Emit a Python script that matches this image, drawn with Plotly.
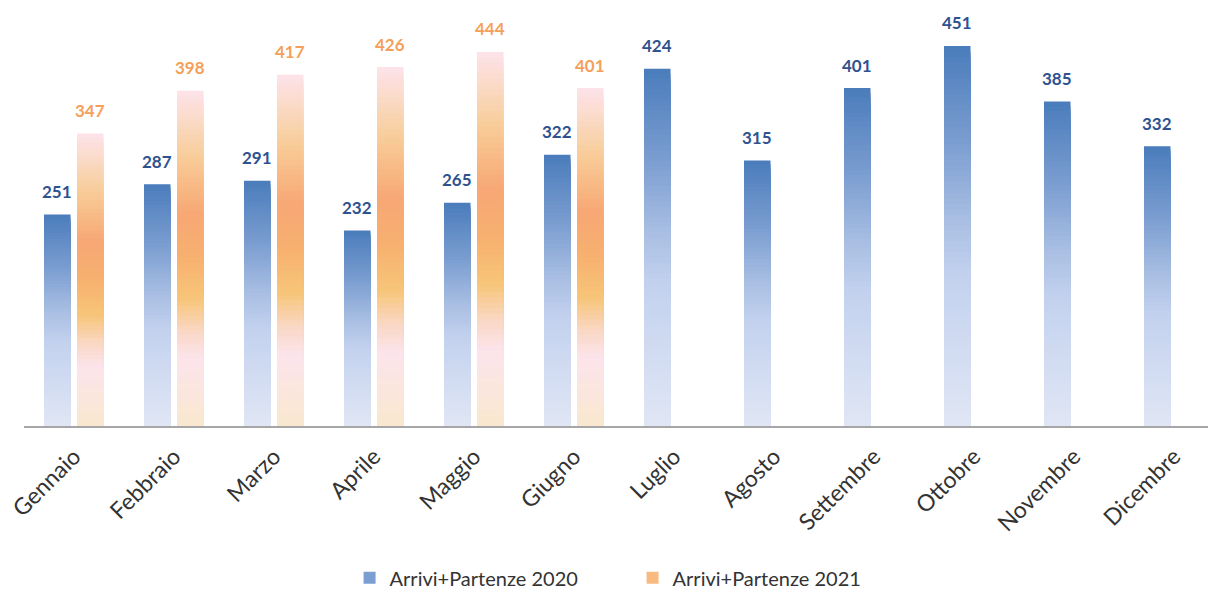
import plotly.graph_objects as go
from plotly.colors import sample_colorscale

# ---------------- data ----------------
months = ["Gennaio", "Febbraio", "Marzo", "Aprile", "Maggio", "Giugno",
          "Luglio", "Agosto", "Settembre", "Ottobre", "Novembre", "Dicembre"]
values_2020 = [251, 287, 291, 232, 265, 322, 424, 315, 401, 451, 385, 332]
months_2021 = months[:6]
values_2021 = [347, 398, 417, 426, 444, 401]
series_names = ["Arrivi+Partenze 2020", "Arrivi+Partenze 2021"]

# ---------------- styles ----------------
# gradient stops: fraction measured from the TOP of each bar
BLUE_SCALE = [[0.0, "#4A7CBB"], [0.25, "#7A9DD0"], [0.45, "#A7BDE2"],
              [0.6, "#C2D1EE"], [0.8, "#D2DCF2"], [1.0, "#E0E6F4"]]
ORANGE_SCALE = [[0.0, "#FDE3EB"], [0.1, "#FAD9C2"], [0.2, "#F8CC98"],
                [0.37, "#F7A774"], [0.5, "#F7B170"], [0.62, "#F7C578"],
                [0.72, "#FAD8C6"], [0.8, "#FCE4EC"], [1.0, "#F9E8CE"]]
LABEL_BLUE = "#2F528F"
LABEL_ORANGE = "#F5A05A"
TEXT_GREY = "#333333"
FONT = "Lato"
N_STEPS = 70
BAR_W = 0.265
OFF_2020 = -0.30
OFF_2021 = 0.03

fig = go.Figure()


def add_gradient_bars(xs, vals, offset, scale):
    fracs = [(k + 0.5) / N_STEPS for k in range(N_STEPS)]
    cols = sample_colorscale(scale, fracs)
    for k in range(N_STEPS):
        fig.add_trace(go.Bar(
            x=xs, y=[v * (1 - k / N_STEPS) for v in vals],
            offset=offset, width=BAR_W,
            marker=dict(color=cols[k], line=dict(width=0)),
            showlegend=False, hoverinfo="skip",
        ))


add_gradient_bars(months, values_2020, OFF_2020, BLUE_SCALE)
add_gradient_bars(months_2021, values_2021, OFF_2021, ORANGE_SCALE)

# legend entries
for name, col in zip(series_names, ["#7C9FD1", "#F8BA80"]):
    fig.add_trace(go.Bar(x=[months[0]], y=[0], name=name, width=0.0001,
                         marker=dict(color=col, line=dict(width=0)),
                         hoverinfo="skip"))

annotations = []
for xs, vals, off, col in [(months, values_2020, OFF_2020, LABEL_BLUE),
                           (months_2021, values_2021, OFF_2021, LABEL_ORANGE)]:
    for m, v in zip(xs, vals):
        annotations.append(dict(
            x=m, y=v, xref="x", yref="y", text=str(v), showarrow=False,
            xshift=(off + BAR_W / 2) * 100, yshift=23, yanchor="middle",
            font=dict(family=FONT, size=17, color=col, weight="bold"),
        ))

fig.update_layout(
    width=1208, height=590,
    margin=dict(l=24, r=0, t=10, b=164, autoexpand=False),
    paper_bgcolor="white", plot_bgcolor="white",
    barmode="overlay",
    annotations=annotations,
    showlegend=True,
    legend=dict(orientation="h", x=0.514, xanchor="center", y=-0.365,
                yanchor="middle", font=dict(family=FONT, size=20, color=TEXT_GREY),
                entrywidth=238, itemwidth=30),
    xaxis=dict(type="category", categoryorder="array", categoryarray=months,
               range=[-0.5, 11.34], showline=True, linecolor="#A6A6A6",
               linewidth=2, ticks="", showgrid=False, tickangle=-45,
               tickfont=dict(family=FONT, size=23, color=TEXT_GREY),
               ticklabelstandoff=6, automargin=False),
    yaxis=dict(range=[0, 493.7], visible=False, showgrid=False, zeroline=False),
)

fig.write_html("out.html")
